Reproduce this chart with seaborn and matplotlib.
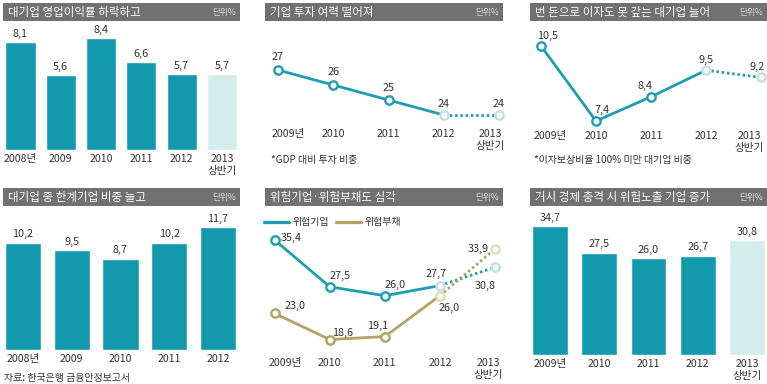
import matplotlib
matplotlib.use("Agg")
import matplotlib.pyplot as plt
import matplotlib.transforms as mtransforms
import seaborn as sns
import pandas as pd
from matplotlib.patches import Rectangle
from matplotlib.lines import Line2D

# ---------------- data ----------------
titles = ["대기업 영업이익률 하락하고", "기업 투자 여력 떨어져", "번 돈으로 이자도 못 갚는 대기업 늘어",
          "대기업 중 한계기업 비중 늘고", "위험기업·위험부채도 심각", "거시 경제 충격 시 위험노출 기업 증가"]
unit_text = "단위%"

p1_labels = ["2008년", "2009", "2010", "2011", "2012", "2013\n상반기"]
p1_values = [8.1, 5.6, 8.4, 6.6, 5.7, 5.7]

p2_labels = ["2009년", "2010", "2011", "2012", "2013\n상반기"]
p2_values = [27, 26, 25, 24, 24]
p2_note = "*GDP 대비 투자 비중"

p3_labels = ["2009년", "2010", "2011", "2012", "2013\n상반기"]
p3_values = [10.5, 7.4, 8.4, 9.5, 9.2]
p3_note = "*이자보상비율 100% 미만 대기업 비중"

p4_labels = ["2008년", "2009", "2010", "2011", "2012"]
p4_values = [10.2, 9.5, 8.7, 10.2, 11.7]
source_text = "자료: 한국은행 금융안정보고서"

p5_labels = ["2009년", "2010", "2011", "2012", "2013\n상반기"]
p5_series = ["위험기업", "위험부채"]
p5_firms = [35.4, 27.5, 26.0, 27.7, 30.8]
p5_debt = [23.0, 18.6, 19.1, 26.0, 33.9]

p6_labels = ["2009년", "2010", "2011", "2012", "2013\n상반기"]
p6_values = [34.7, 27.5, 26.0, 26.7, 30.8]

# ---------------- style ----------------
TEAL = "#1299ae"
TEAL_LINE = "#1f9db0"
PALE = "#d5ecec"
GOLD = "#b2a367"
PALE_TEAL_EDGE = "#bfe1e6"
PALE_GOLD_EDGE = "#e3dcbc"
PALE_FILL = "#fbfaf1"
BARGRAY = "#717171"
TXT = "#333333"

sns.set_theme(style="white")
plt.rcParams["font.family"] = ["Noto Sans CJK KR", "DejaVu Sans"]
plt.rcParams["axes.unicode_minus"] = False

W, H = 767, 384
fig = plt.figure(figsize=(W / 100, H / 100), dpi=100)
fig.patch.set_facecolor("white")


def fx(x):
    return x / W


def fy(y):
    return 1 - y / H


def fmt(v):
    if isinstance(v, int):
        return str(v)
    return f"{v:.1f}".replace(".", ",")


def title_bar(l, r, t, b, text):
    fig.add_artist(Rectangle((fx(l), fy(b)), fx(r) - fx(l), fy(t) - fy(b),
                             transform=fig.transFigure, facecolor=BARGRAY, edgecolor="none"))
    fig.text(fx(l + 5), fy((t + b) / 2 + 0.5), text, color="white", fontsize=8.3,
             va="center", ha="left")
    fig.text(fx(r - 4), fy((t + b) / 2 + 0.5), unit_text, color="#dddddd", fontsize=6.2,
             va="center", ha="right")


def make_ax(box):
    l, t, r, b = box
    ax = fig.add_axes([fx(l), fy(b), fx(r) - fx(l), fy(t) - fy(b)])
    ax.patch.set_alpha(0)
    return ax


def set_map(ax, box, xmap, ymap):
    l, t, r, b = box
    xv0, xp0, xv1, xp1 = xmap
    sx = (xp1 - xp0) / (xv1 - xv0)
    ax.set_xlim(xv0 + (l - xp0) / sx, xv0 + (r - xp0) / sx)
    yv0, yp0, yv1, yp1 = ymap
    sy = (yp0 - yp1) / (yv1 - yv0)
    ax.set_ylim(yv0 - (b - yp0) / sy, yv0 + (yp0 - t) / sy)
    for s in ax.spines.values():
        s.set_visible(False)
    ax.set_yticks([])
    ax.set_xlabel("")
    ax.set_ylabel("")


def ticklabels(ax, labels, pad=3, shifts=None):
    ax.set_xticks(range(len(labels)))
    ax.set_xticklabels(labels, fontsize=7.6, color=TXT, linespacing=1.25)
    ax.tick_params(axis="x", length=0, pad=pad)
    if shifts:
        for i, lab in enumerate(ax.get_xticklabels()):
            if i in shifts:
                off = mtransforms.ScaledTranslation(shifts[i] / 100, 0, fig.dpi_scale_trans)
                lab.set_transform(lab.get_transform() + off)


def bar_panel(box, labels, values, colors, width, xmap, ymap):
    ax = make_ax(box)
    df = pd.DataFrame({"cat": labels, "val": values})
    sns.barplot(data=df, x="cat", y="val", hue="cat", palette=colors, legend=False,
                saturation=1, width=width, ax=ax)
    for i, v in enumerate(values):
        ax.annotate(fmt(v), (i, v), xytext=(0, 2.5), textcoords="offset points",
                    ha="center", va="bottom", fontsize=7.8, color=TXT)
    set_map(ax, box, xmap, ymap)
    ticklabels(ax, labels)
    return ax


def line_series(ax, values, color, pale_edge, offsets, lw=2.0):
    xs = list(range(len(values)))
    sns.lineplot(x=xs[:4], y=values[:4], ax=ax, color=color, linewidth=lw,
                 clip_on=False, zorder=2)
    sns.lineplot(x=xs[3:], y=values[3:], ax=ax, color=color, linewidth=lw,
                 linestyle=(0, (0.9, 1.0)), clip_on=False, zorder=2)
    sns.scatterplot(x=xs[:3], y=values[:3], ax=ax, s=36, color="white",
                    edgecolor=color, linewidth=1.7, clip_on=False, zorder=4)
    sns.scatterplot(x=xs[3:], y=values[3:], ax=ax, s=36, color=PALE_FILL,
                    edgecolor=pale_edge, linewidth=1.7, clip_on=False, zorder=4)
    for i, v in enumerate(values):
        dx, dy = offsets[i]
        ax.annotate(fmt(v), (i, v), xytext=(dx * 0.72, -dy * 0.72), textcoords="offset points",
                    ha="center", va="center", fontsize=7.8, color=TXT, zorder=5)


# ---------------- title bars ----------------
title_bar(3, 240, 3, 21, titles[0])
title_bar(265, 503, 3, 21, titles[1])
title_bar(530, 767, 3, 21, titles[2])
title_bar(3, 240, 188, 206, titles[3])
title_bar(265, 503, 188, 206, titles[4])
title_bar(530, 767, 188, 206, titles[5])

# ---------------- panel 1 ----------------
bar_panel((0, 28, 245, 150), p1_labels, p1_values, [TEAL] * 5 + [PALE], 0.745,
          (0, 20.5, 5, 222), (0, 150, 8.4, 38))

# ---------------- panel 4 ----------------
bar_panel((0, 212, 245, 350), p4_labels, p4_values, [TEAL] * 5, 0.74,
          (0, 23, 4, 218), (0, 350, 11.7, 227))
fig.text(fx(4), fy(378), source_text, fontsize=7.2, color=TXT, ha="left", va="center")

# ---------------- panel 6 ----------------
bar_panel((528, 212, 767, 355), p6_labels, p6_values, [TEAL] * 4 + [PALE], 0.73,
          (0, 550, 4, 747), (0, 355, 34.7, 226))

# ---------------- panel 2 ----------------
box2 = (262, 30, 515, 125)
ax2 = make_ax(box2)
line_series(ax2, p2_values, TEAL_LINE, PALE_TEAL_EDGE,
            [(0, -13), (0, -13), (0, -12), (0, -11), (0, -11)])
set_map(ax2, box2, (0, 278, 4, 499), (27, 70, 24, 115))
ticklabels(ax2, p2_labels, shifts={0: 10, 4: -9})
fig.text(fx(271), fy(160), p2_note, fontsize=7.2, color=TXT, ha="left", va="center")

# ---------------- panel 3 ----------------
box3 = (525, 30, 767, 127)
ax3 = make_ax(box3)
line_series(ax3, p3_values, TEAL_LINE, PALE_TEAL_EDGE,
            [(7, -10), (6, -11), (-6, -11), (0, -10), (-4, -10)])
set_map(ax3, box3, (0, 541, 4, 761), (10.5, 46, 7.4, 121))
ticklabels(ax3, p3_labels, shifts={0: 9, 4: -12})
fig.text(fx(534), fy(160), p3_note, fontsize=7.2, color=TXT, ha="left", va="center")

# ---------------- panel 5 ----------------
box5 = (262, 230, 515, 354)
ax5 = make_ax(box5)
line_series(ax5, p5_firms, TEAL_LINE, PALE_TEAL_EDGE,
            [(16, -2), (10, -11), (10, -11), (-4, -12), (-10, 19)])
line_series(ax5, p5_debt, GOLD, PALE_GOLD_EDGE,
            [(20, -7), (13, -7), (-7, -11), (9, 12), (-17, 0)])
set_map(ax5, box5, (0, 274.7, 4, 495), (35.4, 240, 26.0, 295.7))
ticklabels(ax5, p5_labels, shifts={0: 11, 4: -7})
handles = [Line2D([], [], color=TEAL_LINE, linewidth=2.4),
           Line2D([], [], color=GOLD, linewidth=2.4)]
ax5.legend(handles, p5_series, loc="center left", bbox_to_anchor=(fx(264), fy(222)),
           bbox_transform=fig.transFigure, ncol=2, frameon=False, fontsize=7.2,
           handlelength=2.5, handletextpad=0.4, columnspacing=0.6, borderpad=0,
           borderaxespad=0, labelcolor=TXT)

fig.savefig("out.png", dpi=100, facecolor="white")
